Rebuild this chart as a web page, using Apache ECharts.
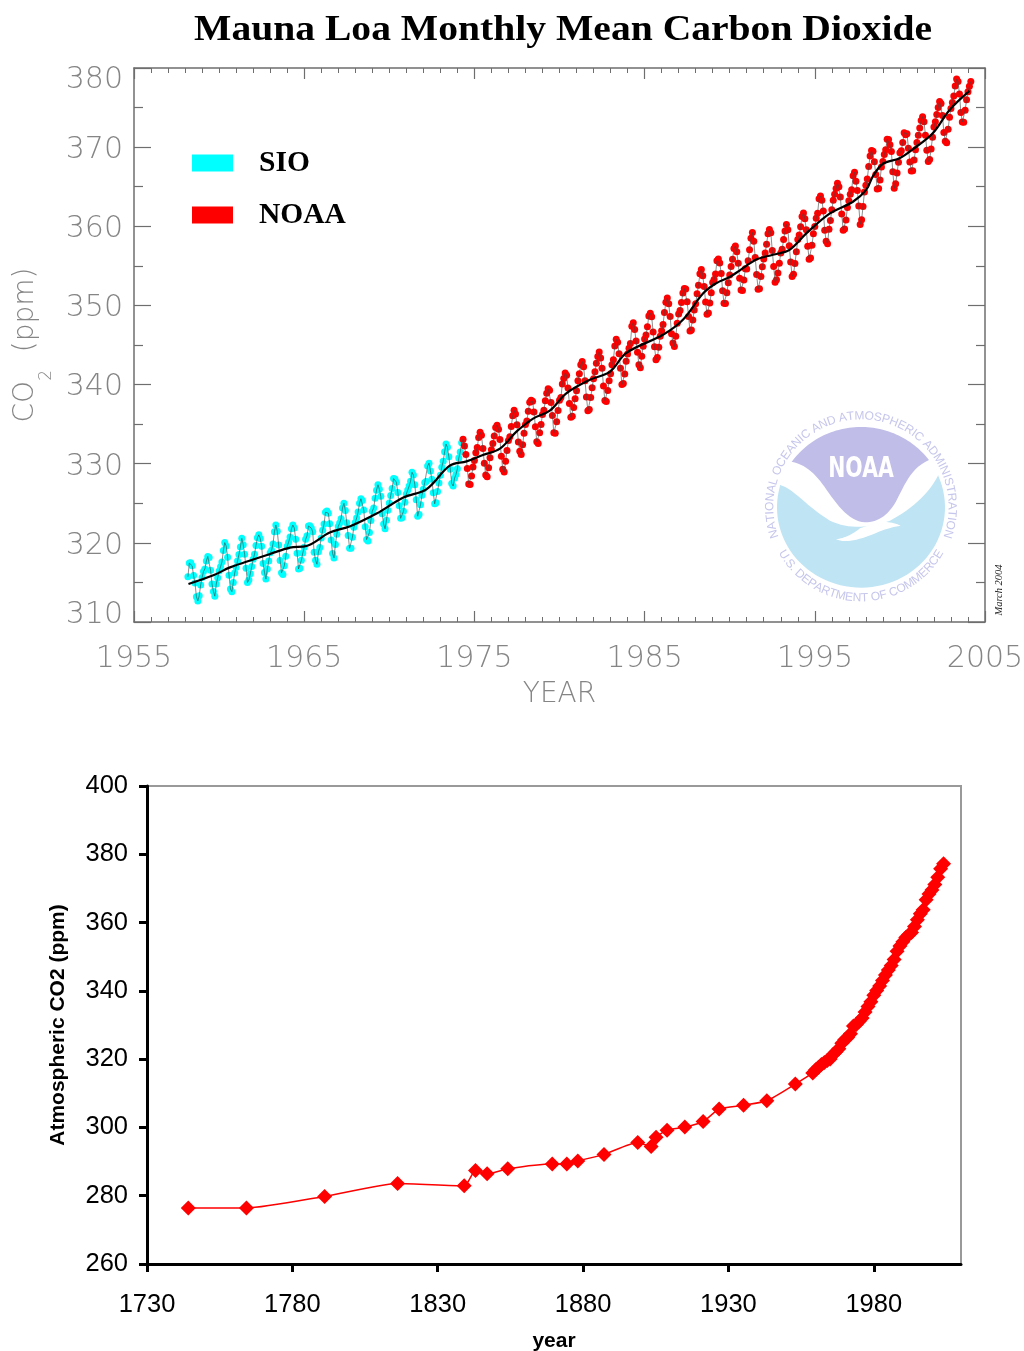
<!DOCTYPE html>
<html><head><meta charset="utf-8">
<style>html,body{margin:0;padding:0;background:#fff}#c{width:1024px;height:1351px}</style>
<script src="https://cdn.jsdelivr.net/npm/echarts@6/dist/echarts.min.js"></script>
</head><body><div id="c"></div>
<script>
// Monthly mean CO2, SIO part: Mar 1958 .. Apr 1974
const sioStart = 1958 + 2/12;
const sioValues = [
315.71,317.45,317.50,317.10,315.86,314.93,313.20,312.66,313.33,314.67,
315.62,316.38,316.71,317.72,318.29,318.15,316.54,314.80,313.84,313.26,314.80,315.58,
316.43,316.97,317.58,319.02,320.03,319.59,318.18,315.91,314.16,313.83,315.00,316.19,
316.93,317.70,318.54,319.48,320.58,319.77,318.57,316.79,314.99,315.31,316.10,317.01,
317.94,318.56,319.68,320.63,321.01,320.55,319.58,317.40,316.26,315.42,316.69,317.70,
318.74,319.07,319.86,321.39,322.25,321.47,319.74,317.77,316.21,315.99,317.12,318.31,
319.57,320.07,320.73,321.77,322.25,321.89,320.44,318.70,316.70,316.79,317.79,318.71,
319.44,320.44,320.89,322.13,322.16,321.87,321.39,318.80,317.81,317.30,318.87,319.42,
320.62,321.59,322.39,323.87,324.01,323.75,322.40,320.37,318.64,318.10,319.79,321.08,
322.07,322.50,323.04,324.42,325.00,324.09,322.55,320.92,319.31,319.31,320.72,321.96,
322.57,323.15,323.89,325.02,325.57,325.36,324.14,322.03,320.41,320.25,321.31,322.84,
324.00,324.42,325.64,326.66,327.34,326.76,325.88,323.67,322.38,321.78,322.85,324.12,
325.03,325.99,326.87,328.13,328.07,327.66,326.35,324.69,323.10,323.16,323.98,325.13,
326.17,326.68,327.18,327.78,328.92,328.57,327.34,325.46,323.36,323.57,324.80,326.01,
326.77,327.63,327.75,329.72,330.07,329.09,328.05,326.32,324.93,325.06,326.50,327.55,
328.54,329.56,330.30,331.50,332.48,332.07,330.87,329.31,327.51,327.18,328.16,328.64,
329.35,330.71,331.48,332.65];
// Monthly mean CO2, NOAA part: May 1974 .. Mar 2004
const noaaStart = 1974 + 4/12;
const noaaValues = [
333.09,332.25,331.18,329.40,327.43,327.37,328.46,329.57,
330.40,331.40,332.04,333.31,333.96,333.60,331.91,330.06,328.56,328.34,329.49,330.76,
331.75,332.56,333.50,334.58,334.87,334.34,333.05,330.94,329.30,328.94,330.31,331.68,
332.93,333.42,334.70,336.07,336.74,336.27,334.93,332.75,331.59,331.16,332.40,333.85,
334.97,335.39,336.64,337.76,338.01,337.89,336.54,334.68,332.76,332.54,333.92,334.95,
336.23,336.76,337.96,338.89,339.47,339.29,337.73,336.09,333.91,333.86,335.29,336.73,
338.01,338.36,340.08,340.77,341.46,341.17,339.56,337.60,335.88,336.01,337.10,338.21,
339.23,340.47,341.38,342.51,342.91,342.25,340.49,338.43,336.69,336.85,338.36,339.61,
340.75,341.61,342.70,343.56,344.13,343.35,342.06,339.81,337.98,337.86,339.26,340.49,
341.37,342.50,343.15,344.87,345.74,345.36,343.91,342.05,340.00,340.12,341.33,342.94,
343.87,344.60,345.20,347.36,347.81,346.96,345.51,344.07,342.52,342.11,343.58,344.85,
345.76,346.25,347.32,348.68,349.02,348.57,346.63,344.77,343.15,343.42,344.73,346.09,
346.81,347.59,349.10,350.39,350.93,350.21,348.61,346.43,345.26,344.82,346.10,347.74,
348.92,349.36,350.37,351.56,352.13,352.09,350.48,348.61,346.78,346.90,348.15,349.43,
350.21,351.47,352.56,353.99,354.54,353.74,352.38,350.44,348.89,349.05,350.31,351.61,
352.91,353.27,353.96,355.64,355.86,355.37,354.04,351.87,350.27,350.25,351.59,352.85,
353.86,354.92,355.82,357.19,357.50,356.78,355.32,353.44,351.95,351.88,353.21,354.64,
354.59,355.63,357.03,358.48,359.22,358.12,356.06,353.92,352.05,352.11,353.64,354.89,
355.88,356.63,357.72,359.07,359.58,359.17,356.94,354.92,352.94,353.23,354.09,355.33,
356.63,357.10,358.32,359.41,360.23,359.55,357.53,355.48,353.67,353.95,355.30,356.78,
358.34,358.89,359.95,361.25,361.67,360.94,359.55,357.49,355.84,356.00,357.59,359.05,
359.98,361.03,361.66,363.48,363.82,363.30,361.94,359.50,358.11,357.80,359.61,360.74,
362.09,363.29,364.06,364.76,365.45,365.01,363.70,361.54,359.51,359.65,360.80,362.38,
363.23,364.06,364.61,366.40,366.84,365.68,364.52,362.57,360.24,360.83,362.49,364.34,
365.18,365.98,367.56,368.89,369.59,369.47,368.15,366.54,364.72,364.77,365.85,367.49,
368.18,369.07,369.68,370.99,370.96,370.30,369.45,366.90,364.81,365.37,366.72,368.10,
369.29,369.55,370.60,371.82,371.58,371.70,369.86,368.13,367.00,367.03,368.37,369.67,
370.59,371.51,372.43,373.37,373.85,373.21,371.51,369.61,368.18,368.45,369.76,371.24,
372.53,373.20,374.12,375.02,375.76,375.52,374.01,371.85,370.75,370.55,372.25,373.79,
374.88,375.64,376.45,377.73,378.60,378.28,376.70,374.38,373.17,373.14,374.66,375.99,
377.00,377.70,378.30];
// Smoothed trend line
const trendYears = [1958.2,1959.66,1960.64,1962.0,1963.0,1964.16,1965.14,1966.5,1967.7,1969.25,1970.8,1972.2,1973.55,1974.54,1975.5,1976.5,1977.47,1978.45,1979.43,1980.4,1981.78,1982.95,1983.93,1986.08,1987.25,1988.43,1989.2,1990.0,1990.58,1991.56,1992.54,1993.5,1994.5,1995.87,1997.24,1998.02,1998.41,1999.0,1999.98,2000.96,2001.93,2002.92,2004.09];
const trendValues = [314.8,315.9,316.9,317.9,318.6,319.4,319.6,321.3,322.1,323.7,325.7,326.8,329.75,330.3,331.1,331.9,334.05,335.7,336.7,338.9,340.6,341.6,344.0,346.3,348.2,351.5,352.8,353.6,354.4,355.8,356.4,357.0,359.1,361.6,363.1,364.6,366.3,367.9,368.6,370.05,371.75,374.7,377.1];
// Long record (lower chart)
const longYears = [1744.2,1764.2,1791.1,1816.2,1839.1,1843,1847,1854.1,1869.4,1874.4,1878.2,1887.2,1898.8,1903.4,1905.1,1908.9,1915,1921.3,1926.8,1935.2,1943.2,1953,
1959,1960,1961,1962,1963,1964,1965,1966,1967,1968,1969,1970,1971,1972,1973,1974,1975,1976,1977,1978,1979,1980,1981,1982,1983,1984,1985,1986,1987,1988,1989,1990,1991,1992,1993,1994,1995,1996,1997,1998,1999,2000,2001,2002,2003,2004];
const longValues = [276.4,276.4,279.8,283.6,282.9,287.4,286.4,287.9,289.3,289.3,290.2,292.1,295.6,294.4,297.1,299.2,300.1,301.7,305.4,306.5,307.8,312.7,
315.97,316.91,317.64,318.45,318.99,319.62,320.04,321.38,322.16,323.04,324.62,325.68,326.32,327.45,329.68,330.18,331.11,332.04,333.83,335.40,336.84,338.75,340.11,341.45,343.05,344.66,346.12,347.43,349.19,351.57,353.12,354.39,355.61,356.45,357.10,358.83,360.82,362.61,363.73,366.70,368.38,369.55,371.14,373.28,375.80,377.20];

const months = (start, vals) => vals.map((v, i) => [start + i/12, v]);
const sioPts = months(sioStart, sioValues);
const noaaPts = months(noaaStart, noaaValues);
const longPts = longYears.map((y, i) => [y, longValues[i]]);
const trendPts = trendYears.map((y, i) => [y, trendValues[i]]);

const GREY = '#6e6e6e', TXT = '#858585';
const lightFont = '"DejaVu Sans"';
const axLine = {show:true, onZero:false, lineStyle:{color:GREY, width:1.5}};
const topX = (pos, labels) => ({gridIndex:0, type:'value', position:pos, min:1955, max:2005, interval:10,
  axisLine:axLine, splitLine:{show:false},
  axisTick:{show:true, inside:true, length:11, lineStyle:{color:GREY, width:1.2}},
  minorTick:{show:true, splitNumber:10, length:5, lineStyle:{color:GREY, width:1}},
  axisLabel:{show:labels, margin:22, color:TXT, fontFamily:lightFont, fontWeight:200, fontSize:30,
    showMinLabel:true, showMaxLabel:true, hideOverlap:false, formatter:v=>String(v)}});
const topY = (pos, labels) => ({gridIndex:0, type:'value', position:pos, min:310, max:380, interval:10,
  axisLine:axLine, splitLine:{show:false},
  axisTick:{show:true, inside:true, length:17, lineStyle:{color:GREY, width:1.2}},
  minorTick:{show:true, splitNumber:2, length:9, lineStyle:{color:GREY, width:1.2}},
  axisLabel:{show:labels, margin:11, color:TXT, fontFamily:lightFont, fontWeight:200, fontSize:30,
    lineHeight:14, padding:[6,0,0,0], verticalAlignMinLabel:'bottom', hideOverlap:false,
    formatter:v => v === 380 ? '{t|380}' : String(v),
    rich:{t:{color:TXT, fontFamily:lightFont, fontWeight:200, fontSize:30, lineHeight:14, padding:[18,0,0,0]}}}});

// ring lettering of the seal
const cx = 861, cy = 507;
const ctx = document.createElement('canvas').getContext('2d');
function ring(text, r, spanDeg, bottom, size) {
  ctx.font = size + 'px "Liberation Sans"';
  const widths = [...text].map(c => ctx.measureText(c).width);
  const tot = widths.reduce((a,b)=>a+b,0);
  const span = spanDeg*Math.PI/180;
  let pos = 0; const out = [];
  [...text].forEach((c,i)=>{
    const a = (pos + widths[i]/2)/tot*span - span/2; pos += widths[i];
    out.push({type:'text', silent:true, z:1,
      x: cx + r*Math.sin(a), y: bottom ? cy + r*Math.cos(a) : cy - r*Math.cos(a),
      rotation: bottom ? a : -a,
      style:{text:c, fontFamily:'Liberation Sans', fontSize:size, fill:'#c6c6ec', align:'center', verticalAlign:'middle'}});
  });
  return out;
}
// seal outline helpers (seal drawn in a 3x local space)
const C0 = [333, 322], RX = 252, RY = 241;
function bez(p0, p1, p2, p3, n=14) {
  const o = [];
  for (let i = 0; i <= n; i++) { const t = i/n, u = 1-t;
    o.push([u*u*u*p0[0]+3*u*u*t*p1[0]+3*u*t*t*p2[0]+t*t*t*p3[0], u*u*u*p0[1]+3*u*u*t*p1[1]+3*u*t*t*p2[1]+t*t*t*p3[1]]); }
  return o;
}
function arc(a0, a1, n=60) { // degrees, clockwise from top
  const o = [];
  for (let i = 0; i <= n; i++) { const a = (a0+(a1-a0)*i/n)*Math.PI/180;
    o.push([C0[0]+RX*Math.sin(a), C0[1]-RY*Math.cos(a)]); }
  return o;
}
const sealBlue = [
  ...bez([90,255],[130,265],[170,320],[240,362]),
  ...bez([240,362],[290,385],[340,388],[420,362]),
  ...bez([420,362],[480,330],[535,285],[565,225]),
  ...arc(67, 285)
];
const sealPurple = [
  ...arc(-55.6, 54),
  ...bez([537,180],[480,205],[462,260],[435,310]),
  ...bez([435,310],[410,350],[380,367],[345,367]),
  ...bez([345,367],[300,365],[265,320],[230,270]),
  ...bez([230,270],[200,225],[170,195],[125,185])
];
const sealTail = [
  ...bez([330,385],[305,405],[280,415],[258,418]),
  ...bez([258,418],[285,430],[330,420],[380,398]),
  ...bez([380,398],[410,385],[435,380],[452,377]),
  ...bez([452,377],[430,367],[400,362],[380,368])
];

const option = {
  animation:false, backgroundColor:'#fff',
  legend:{orient:'vertical', left:187, top:143, data:['SIO','NOAA'], icon:'rect', itemWidth:41, itemHeight:17, itemGap:22,
    selectedMode:false, textStyle:{fontFamily:'Liberation Serif', fontWeight:'bold', fontSize:29.5, color:'#000', padding:[0,0,0,21]}},
  grid:[
    {left:134, top:68, width:851, height:554, show:false, outerBoundsMode:'none'},
    {left:147, top:786, width:814, height:478, show:true, borderColor:'#999', borderWidth:2, outerBoundsMode:'none'}
  ],
  xAxis:[
    Object.assign(topX('bottom', true), {name:'YEAR', nameLocation:'middle', nameGap:59,
      nameTextStyle:{color:TXT, fontFamily:lightFont, fontWeight:200, fontSize:28}}),
    topX('top', false),
    {gridIndex:1, type:'value', min:1730, max:2010, interval:50, name:'year', nameLocation:'middle', nameGap:67,
     nameTextStyle:{fontFamily:'Liberation Sans', fontWeight:'bold', fontSize:21, color:'#000'},
     axisLine:{show:true, onZero:false, lineStyle:{color:'#000', width:3}}, splitLine:{show:false},
     axisTick:{show:true, length:8, lineStyle:{color:'#000', width:3}},
     axisLabel:{margin:28, fontFamily:'Liberation Sans', fontSize:25.5, color:'#000', showMaxLabel:false, formatter:v=>String(v)}}
  ],
  yAxis:[
    Object.assign(topY('left', true), {name:'CO{s|2}  (ppm)', nameLocation:'middle', nameGap:73, nameRotate:90,
      nameTextStyle:{color:TXT, fontFamily:lightFont, fontWeight:200, fontSize:28,
        rich:{s:{fontSize:17, color:TXT, fontFamily:lightFont, fontWeight:200, verticalAlign:'bottom', padding:[42,0,0,0]}}}}),
    topY('right', false),
    {gridIndex:1, type:'value', min:260, max:400, interval:20, name:'Atmospheric CO2 (ppm)', nameLocation:'middle', nameGap:78, nameRotate:90,
     nameTextStyle:{fontFamily:'Liberation Sans', fontWeight:'bold', fontSize:21, color:'#000'},
     axisLine:{show:true, onZero:false, lineStyle:{color:'#000', width:3}}, splitLine:{show:false},
     axisTick:{show:true, length:8, lineStyle:{color:'#000', width:3}},
     axisLabel:{margin:19, padding:[4,0,0,0], fontFamily:'Liberation Sans', fontSize:25.5, color:'#000'}}
  ],
  series:[
    {name:'SIO', type:'scatter', xAxisIndex:0, yAxisIndex:0, data:sioPts, symbolSize:7, itemStyle:{color:'#00ffff', opacity:1}, z:2},
    {name:'NOAA', type:'scatter', xAxisIndex:0, yAxisIndex:0, data:noaaPts, symbolSize:7, itemStyle:{color:'#ff0000', opacity:1}, z:2},
    {name:'Monthly', type:'line', xAxisIndex:0, yAxisIndex:0, data:sioPts.concat(noaaPts), showSymbol:false, lineStyle:{color:'#444', width:1, opacity:0.6}, z:3},
    {name:'Trend', type:'line', xAxisIndex:0, yAxisIndex:0, data:trendPts, showSymbol:false, smooth:0.35, lineStyle:{color:'#000', width:2.2}, z:4},
    {name:'Atmospheric CO2', type:'line', xAxisIndex:2, yAxisIndex:2, data:longPts, symbol:'diamond', symbolSize:15, smooth:0.2,
     itemStyle:{color:'#ff0000'}, lineStyle:{color:'#ff0000', width:1.5}, z:3}
  ],
  graphic:[
    {type:'text', silent:true, x:194, y:31, z:5, scaleX:1.1, style:{text:'Mauna Loa Monthly Mean Carbon Dioxide', fontFamily:'Liberation Serif', fontWeight:'bold', fontSize:36, fill:'#000', align:'left', verticalAlign:'middle'}},
    {type:'group', x:750, y:400, scaleX:1/3, scaleY:1/3, silent:true, z:0, children:[
      {type:'polygon', shape:{points:sealBlue}, style:{fill:'#bfe4f4'}},
      {type:'polygon', shape:{points:sealPurple}, style:{fill:'#c0bde8'}},
      {type:'polygon', shape:{points:sealTail}, style:{fill:'#ffffff'}}
    ]},
    {type:'text', silent:true, x:861, y:470, z:1, scaleX:0.73, style:{text:'NOAA', fontFamily:'DejaVu Sans', fontWeight:'bold', fontSize:28, fill:'#fff', align:'center', verticalAlign:'middle'}},
    ...ring('NATIONAL OCEANIC AND ATMOSPHERIC ADMINISTRATION', 91, 220, false, 12),
    ...ring('U.S. DEPARTMENT OF COMMERCE', 91, 122, true, 12),
    {type:'text', silent:true, x:999, y:590, rotation:Math.PI/2, z:1, style:{text:'March 2004', fontFamily:'Liberation Serif', fontStyle:'italic', fontSize:10.5, fill:'#222', align:'center', verticalAlign:'middle'}}
  ]
};
const chart = echarts.init(document.getElementById('c'), null, {renderer:'canvas', width:1024, height:1351});
chart.setOption(option);
</script></body></html>
